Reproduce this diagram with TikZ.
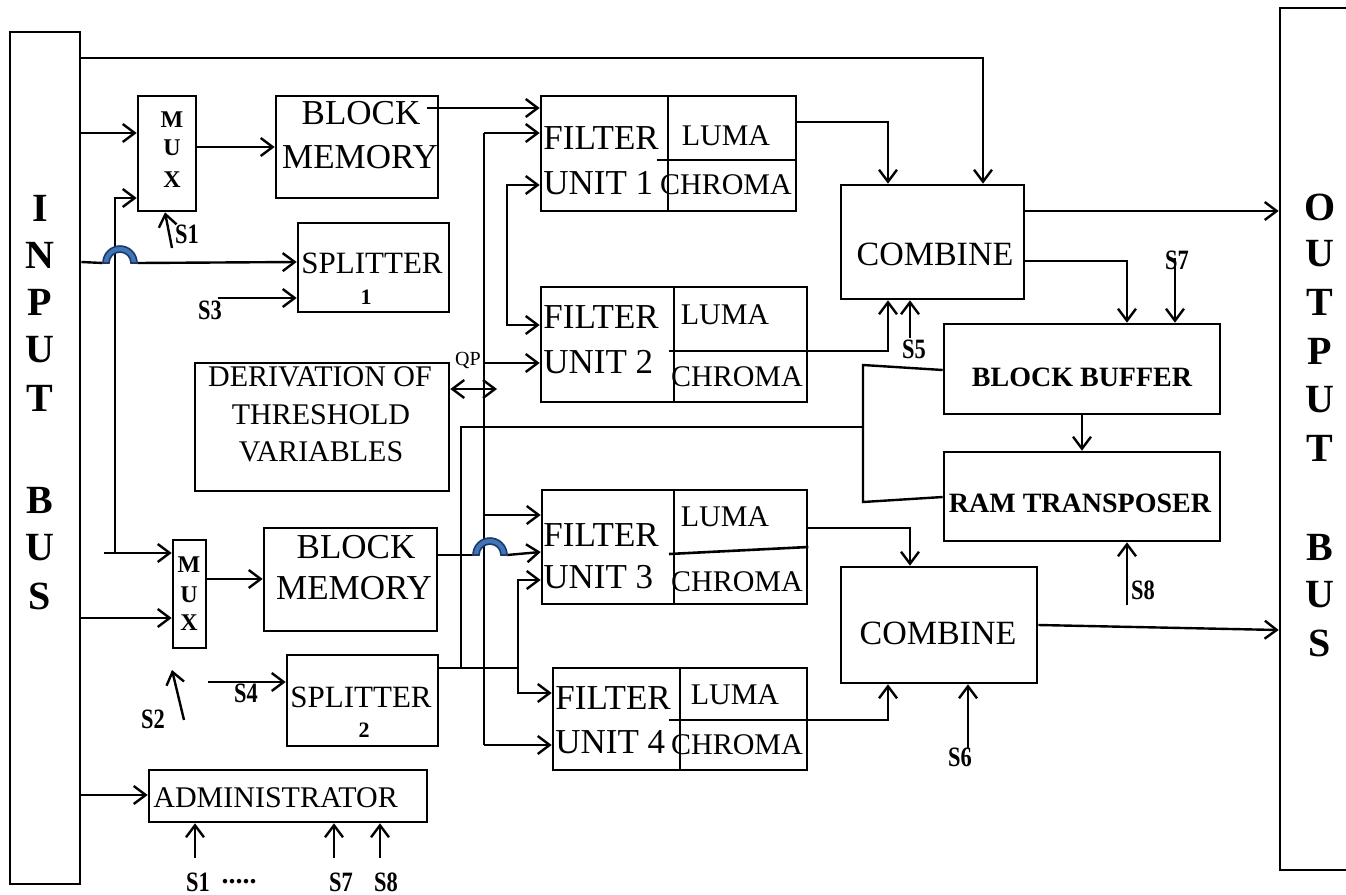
\documentclass[tikz,border=0pt]{standalone}
\usepackage{fontspec}
\setmainfont{Liberation Serif}
\usetikzlibrary{arrows.meta,fit}
\definecolor{jb}{RGB}{66,116,184}
\definecolor{jd}{RGB}{28,58,104}
\newcommand\pxf[1]{\fontsize{#1}{#1}\selectfont}
\newcommand\sig[1]{\scalebox{0.8}[1]{#1}}
\begin{document}
\begin{tikzpicture}[x=0.5pt,y=-0.5pt,
 box/.style={draw,line width=1.3pt,inner sep=0pt,fit={#1}},
 ln/.style={line width=1.2pt},
 ar/.style={ln,-{Straight Barb[length=6pt,width=9pt]}},
 dar/.style={ln,{Straight Barb[length=6pt,width=9pt]}-{Straight Barb[length=6pt,width=9pt]}},
 tx/.style={inner sep=0pt},
 sl/.style={inner sep=0pt,font=\pxf{14}\bfseries},
 big/.style={inner sep=0pt,font=\pxf{17.5}},
 lc/.style={inner sep=0pt,font=\pxf{15}},
 jump/.style={fill=jb,draw=jd,line width=0.8pt}]
\useasboundingbox (0,0) rectangle (1346,895);

% ---------- boxes ----------
\node[box={(10,32) (80,884)}] (in) {};
\node[box={(1280,8) (1360,870)}] (out) {};
\node[box={(138,96) (196,211)}] (mux1) {};
\node[box={(276,96) (438,198)}] (bm1) {};
\node[box={(298,223) (449,312)}] (sp1) {};
\node[box={(195,363) (449,491)}] (der) {};
\node[box={(173,540) (206,648)}] (mux2) {};
\node[box={(264,528) (437,631)}] (bm2) {};
\node[box={(287,655) (438,746)}] (sp2) {};
\node[box={(149,770) (427,822)}] (admin) {};
\node[box={(541,96) (796,211)}] (fu1) {};
\node[box={(541,287) (807,402)}] (fu2) {};
\node[box={(542,490) (807,604)}] (fu3) {};
\node[box={(553,668) (807,770)}] (fu4) {};
\node[box={(841,185) (1024,299)}] (comb1) {};
\node[box={(944,324) (1220,414)}] (bb) {};
\node[box={(944,452) (1220,541)}] (rt) {};
\node[box={(841,567) (1037,683)}] (comb2) {};

% filter unit dividers
\draw[line width=1.3pt] (fu1.north -| 668,0) -- (fu1.south -| 668,0);
\draw[line width=1.3pt] (657,160) -- (fu1.east |- 0,160);
\draw[line width=1.3pt] (fu2.north -| 674,0) -- (fu2.south -| 674,0);
\draw[line width=1.3pt] (669,351) -- (fu2.east |- 0,351);
\draw[line width=1.3pt] (fu3.north -| 674,0) -- (fu3.south -| 674,0);
\draw[line width=1.3pt] (669,554) -- (fu3.east |- 0,547);
\draw[line width=1.3pt] (fu4.north -| 680,0) -- (fu4.south -| 680,0);
\draw[line width=1.3pt] (669,720) -- (fu4.east |- 0,720);

% ---------- texts ----------
\foreach \c/\yy [count=\i] in {I/208,N/255,P/302,U/350,T/398,B/500,U/548,S/596}
  \node[tx,font=\pxf{20}\bfseries] (inl\i) at (40,\yy) {\c};
\foreach \c/\yy [count=\i] in {O/207,U/254,T/302,P/351,U/400,T/448,B/547,U/595,S/643}
  \node[tx,font=\pxf{20}\bfseries] (outl\i) at (1320,\yy) {\c};
\foreach \c/\yy [count=\i] in {M/120,U/148,X/180}
  \node[tx,font=\pxf{12}\bfseries] (m1l\i) at (172,\yy) {\c};
\foreach \c/\yy [count=\i] in {M/565,U/595,X/623}
  \node[tx,font=\pxf{12}\bfseries] (m2l\i) at (189,\yy) {\c};
\node[big] (bm1a) at (361,113) {BLOCK};
\node[big] (bm1b) at (360,157) {MEMORY};
\node[big] (bm2a) at (356,547) {BLOCK};
\node[big] (bm2b) at (354,588) {MEMORY};
\node[tx,font=\pxf{15.5}] (sp1a) at (372,263) {SPLITTER};
\node[tx,font=\pxf{11}\bfseries] (sp1b) at (366,297) {1};
\node[tx,font=\pxf{15.5}] (sp2a) at (361,697) {SPLITTER};
\node[tx,font=\pxf{11}\bfseries] (sp2b) at (364,730) {2};
\node[lc] (der1) at (320,377) {DERIVATION OF};
\node[lc] (der2) at (321,415) {THRESHOLD};
\node[lc] (der3) at (321,452) {VARIABLES};
\node[big,anchor=west] (fu1a) at (543,138) {FILTER};
\node[big,anchor=west] (fu1b) at (543,183) {UNIT 1};
\node[big,anchor=west] (fu2a) at (543,317) {FILTER};
\node[big,anchor=west] (fu2b) at (543,362) {UNIT 2};
\node[big,anchor=west] (fu3a) at (543,535) {FILTER};
\node[big,anchor=west] (fu3b) at (543,577) {UNIT 3};
\node[big,anchor=west] (fu4a) at (555,698) {FILTER};
\node[big,anchor=west] (fu4b) at (555,742) {UNIT 4};
\node[lc] (lu1) at (726,136) {LUMA};
\node[lc] (ch1) at (726,185) {CHROMA};
\node[lc] (lu2) at (725,315) {LUMA};
\node[lc] (ch2) at (737,377) {CHROMA};
\node[lc] (lu3) at (725,517) {LUMA};
\node[lc] (ch3) at (737,582) {CHROMA};
\node[lc] (lu4) at (735,695) {LUMA};
\node[lc] (ch4) at (737,745) {CHROMA};
\node[tx,font=\pxf{17}] (c1t) at (935,254) {COMBINE};
\node[tx,font=\pxf{17}] (c2t) at (938,633) {COMBINE};
\node[tx,font=\pxf{14}\bfseries] (bbt) at (1082,377) {BLOCK BUFFER};
\node[tx,font=\pxf{14}\bfseries] (rtt) at (1080,503) {RAM TRANSPOSER};
\node[lc,anchor=west] (adt) at (153,798) {ADMINISTRATOR};
\node[tx,font=\pxf{10}] (qp) at (468,360) {QP};

\node[sl] (s1) at (187,234) {\sig{S1}};
\node[sl] (s3) at (210,310) {\sig{S3}};
\node[sl] (s5) at (914,349) {\sig{S5}};
\node[sl] (s7) at (1177,260) {\sig{S7}};
\node[sl] (s8) at (1143,590) {\sig{S8}};
\node[sl] (s6) at (960,757) {\sig{S6}};
\node[sl] (s4) at (246,693) {\sig{S4}};
\node[sl] (s2) at (153,719) {\sig{S2}};
\node[sl] (bs1) at (198,882) {\sig{S1}};
\node[sl] (bdots) at (239,882) {.....};
\node[sl] (bs7) at (341,882) {\sig{S7}};
\node[sl] (bs8) at (386,882) {\sig{S8}};

% ---------- connectors ----------
\draw[ar] (in.east |- 0,58) -| (comb1.north -| 983,0);
\draw[ar] (in.east |- 0,133) -- (mux1.west |- 0,133);
\coordinate (j1) at (120,263);
\draw[ln] (in.east |- 0,262) -- ([xshift=-8.5pt]j1);
\draw[ar] ([xshift=8.5pt]j1) -- (sp1.west |- 0,262);
\coordinate (v1b) at (115,553);
\coordinate (v1s) at (104,553);
\draw[ar] (v1b) |- (mux1.west |- 0,198);
\draw[ar] (v1s) -- (mux2.west |- 0,553);
\draw[jump] ([xshift=-8.5pt]j1) arc[start angle=180,end angle=0,radius=8.5pt]
   -- ++(-3pt,0) arc[start angle=0,end angle=180,radius=5.5pt] -- cycle;
\draw[ar] (in.east |- 0,618) -- (mux2.west |- 0,618);
\draw[ar] (in.east |- 0,795) -- (admin.west |- 0,795);
\draw[ar] (mux1.east |- 0,147) -- (bm1.west |- 0,147);
\draw[ar] (mux2.east |- 0,579) -- (bm2.west |- 0,579);
\draw[ar] ([xshift=-6pt]bm1.east |- 0,108) -- (fu1.west |- 0,108);

% QP bus
\coordinate (qt) at (484,133);
\coordinate (qb) at (484,745);
\draw[ln] (qt) -- (qb);
\draw[ar] (qt) -- (fu1.west |- qt);
\draw[ar] (484,363) -- (fu2.west |- 0,363);
\draw[ar] (484,515) -- (fu3.west |- 0,515);
\draw[ar] (qb) -- (fu4.west |- qb);
\draw[dar] (der.east |- 0,389) -- (497,389);

% bracket FU1-FU2
\draw[dar] (fu1.west |- 0,185) -- (507,185) -- (507,325) -- (fu2.west |- 0,325);

% block memory 2 -> FU3 with jump
\coordinate (j2) at (490,555);
\draw[ln] (bm2.east |- 0,555) -- ([xshift=-8.5pt]j2);
\draw[ar] ([xshift=8.5pt]j2) -- (fu3.west |- 0,552);

% splitter 2
\draw[ln] (sp2.east |- 0,668) -- (518,668);
\draw[ln] (461,668) -- (461,427) -- (863,427);
\draw[dar] (fu3.west |- 0,580) -- (518,580) -- (518,693) -- (fu4.west |- 0,693);
\draw[ln] (bb.west |- 0,370) -- (863,365) -- (863,502) -- (rt.west |- 0,497);
\draw[jump] ([xshift=-8.5pt]j2) arc[start angle=180,end angle=0,radius=8.5pt]
   -- ++(-3pt,0) arc[start angle=0,end angle=180,radius=5.5pt] -- cycle;

% filter outputs and combine
\draw[ar] (fu1.east |- 0,122) -| (comb1.north -| 888,0);
\draw[ar] (fu2.east |- 0,351) -| (comb1.south -| 888,0);
\draw[ar] (910,338) -- (comb1.south -| 910,0);
\draw[ar] (comb1.east |- 0,211) -- (out.west |- 0,211);
\draw[ar] (comb1.east |- 0,261) -| (bb.north -| 1127,0);
\draw[ar] (1175,258) -- (bb.north -| 1175,0);
\draw[ar] (bb.south -| 1082,0) -- (rt.north -| 1082,0);
\draw[ar] (1127,605) -- (rt.south -| 1127,0);
\draw[ar] (fu3.east |- 0,528) -| (comb2.north -| 910,0);
\draw[ar] (fu4.east |- 0,720) -| (comb2.south -| 888,0);
\draw[ar] (968,748) -- (comb2.south -| 968,0);
\draw[ar] (comb2.east |- 0,625) -- (out.west |- 0,630);

% select signals
\draw[ar] (172,248) -- (mux1.south -| 165,0);
\draw[ar] (218,298) -- (sp1.west |- 0,298);
\draw[ar] (208,682) -- (sp2.west |- 0,682);
\draw[ar] (184,720) -- (172,670);
\draw[ar] (195,858) -- (admin.south -| 195,0);
\draw[ar] (334,858) -- (admin.south -| 334,0);
\draw[ar] (380,858) -- (admin.south -| 380,0);
\end{tikzpicture}
\end{document}
